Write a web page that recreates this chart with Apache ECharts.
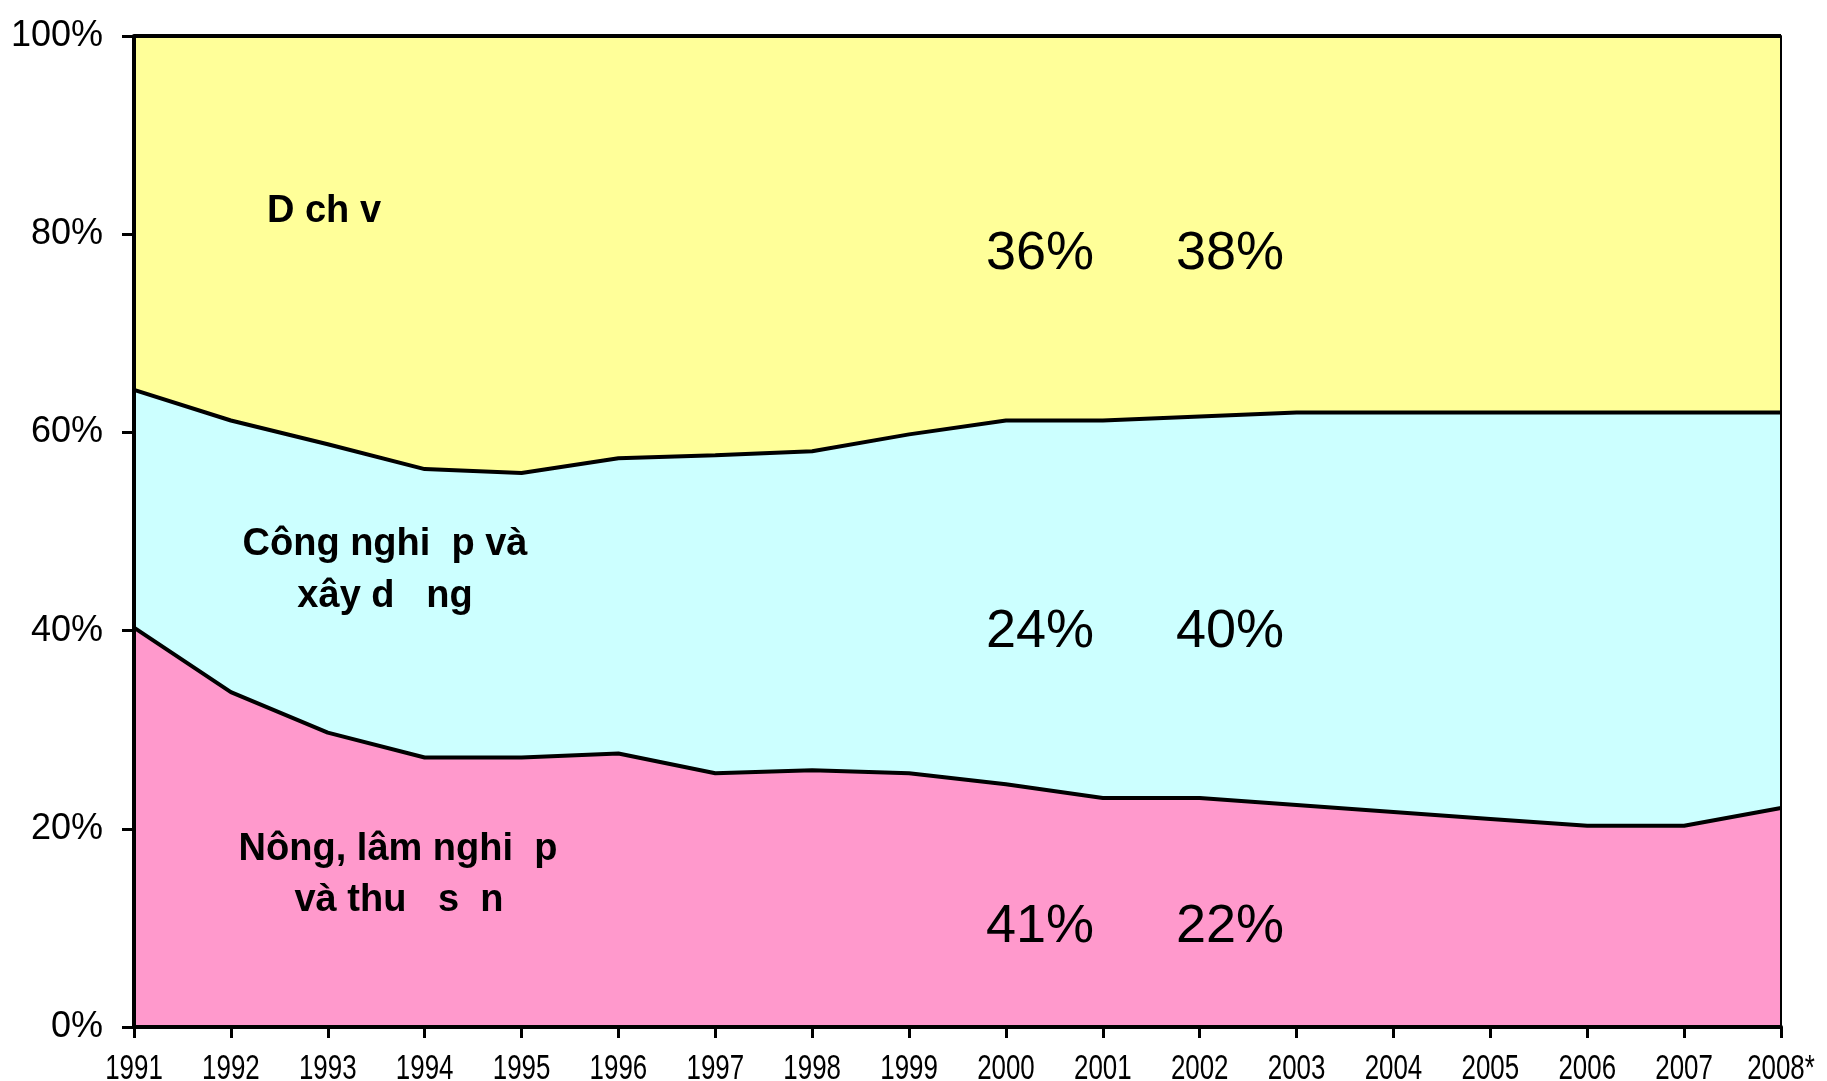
<!DOCTYPE html>
<html>
<head>
<meta charset="utf-8">
<script src="https://cdn.jsdelivr.net/npm/echarts@6/dist/echarts.min.js"></script>
<style>
html,body{margin:0;padding:0;background:#fff;}
#chart{width:1827px;height:1081px;}
</style>
</head>
<body>
<div id="chart"></div>
<script>
// Categories (years)
var years = ['1991','1992','1993','1994','1995','1996','1997','1998','1999','2000','2001','2002','2003','2004','2005','2006','2007','2008*'];
// Shares (%)
var agriculture = [40.3, 33.8, 29.7, 27.2, 27.2, 27.6, 25.6, 25.9, 25.6, 24.5, 23.1, 23.1, 22.4, 21.7, 21.0, 20.3, 20.3, 22.1];
var industry    = [24.0, 27.4, 29.1, 29.1, 28.7, 29.8, 32.1, 32.2, 34.2, 36.7, 38.1, 38.5, 39.6, 40.3, 41.0, 41.7, 41.7, 39.9];
var services    = [35.7, 38.8, 41.2, 43.7, 44.1, 42.6, 42.3, 41.9, 40.2, 38.8, 38.8, 38.4, 38.0, 38.0, 38.0, 38.0, 38.0, 38.0];
// Y tick values
var yTicks = [0, 20, 40, 60, 80, 100];
// Series names / annotation texts
var seriesNames = ['Nông, lâm nghi  p và thu   s  n', 'Công nghi  p và xây d  ng', 'D ch v'];
var labelsStart = ['41%', '24%', '36%'];
var labelsEnd   = ['22%', '40%', '38%'];

var chart = echarts.init(document.getElementById('chart'), null, {renderer: 'canvas'});

var lineStyle = {color: '#000', width: 4};
function areaSeries(name, data, color) {
  return {
    name: name, type: 'line', stack: 'total', data: data,
    symbol: 'none', smooth: false,
    lineStyle: lineStyle,
    areaStyle: {color: color, opacity: 1},
    silent: true, animation: false
  };
}

var boldText = {fill: '#000', font: 'bold 38px "Liberation Sans", Arial, sans-serif', textAlign: 'center', textVerticalAlign: 'middle'};
var pctText = {fill: '#000', font: '54px "Liberation Sans", Arial, sans-serif', textAlign: 'center', textVerticalAlign: 'middle'};

function txt(x, y, s, style) {
  return {type: 'text', x: x, y: y, z: 100, style: Object.assign({text: s}, style)};
}

var graphics = [
  txt(324, 212, 'D ch v', boldText),
  txt(385, 545, 'Công nghi  p và', boldText),
  txt(385, 597, 'xây d   ng', boldText),
  txt(398, 850, 'Nông, lâm nghi  p', boldText),
  txt(399, 901, 'và thu   s  n', boldText),
  txt(1040, 254, labelsStart[2], pctText),
  txt(1230, 254, labelsEnd[2], pctText),
  txt(1040, 632, labelsStart[1], pctText),
  txt(1230, 632, labelsEnd[1], pctText),
  txt(1040, 927, labelsStart[0], pctText),
  txt(1230, 927, labelsEnd[0], pctText)
];

chart.setOption({
  animation: false,
  backgroundColor: '#fff',
  grid: {left: 134, right: 46, top: 36, bottom: 54, containLabel: false},
  xAxis: {
    type: 'category', data: years, boundaryGap: false,
    axisLine: {show: true, lineStyle: {color: '#000', width: 4}},
    axisTick: {show: true, alignWithLabel: true, length: 11, lineStyle: {color: '#000', width: 3}},
    axisLabel: {show: false},
    splitLine: {show: false}, z: 10
  },
  yAxis: [{
    type: 'value', min: yTicks[0], max: yTicks[yTicks.length - 1], interval: 20,
    axisLine: {show: true, lineStyle: {color: '#000', width: 4}},
    axisTick: {show: true, length: 12, lineStyle: {color: '#000', width: 3}},
    axisLabel: {
      color: '#000', fontSize: 36, margin: 31, formatter: '{value}%',
      fontFamily: '"Liberation Sans", Arial, sans-serif',
      padding: [0, 0, 20, 0]
    },
    splitLine: {show: false}, z: 10
  }, {
    type: 'value', min: 0, max: 100, position: 'right',
    axisLine: {show: true, lineStyle: {color: '#000', width: 2}},
    axisTick: {show: false}, axisLabel: {show: false}, splitLine: {show: false}, z: 10
  }],
  series: [
    areaSeries(seriesNames[0], agriculture, '#FF99CC'),
    areaSeries(seriesNames[1], industry, '#CCFFFF'),
    areaSeries(seriesNames[2], services, '#FFFF99')
  ],
  graphic: graphics
});

// Condensed year labels placed at the category axis positions computed by ECharts
var yearLabels = years.map(function (y) {
  var p = chart.convertToPixel({xAxisIndex: 0, yAxisIndex: 0}, [y, 0]);
  return {
    type: 'text', x: p[0], y: p[1] + 42, scaleX: 0.74, z: 100,
    style: {text: y, fill: '#000', font: '35px "Liberation Sans", Arial, sans-serif', textAlign: 'center', textVerticalAlign: 'middle'}
  };
});
chart.setOption({graphic: graphics.concat(yearLabels)});
</script>
</body>
</html>
